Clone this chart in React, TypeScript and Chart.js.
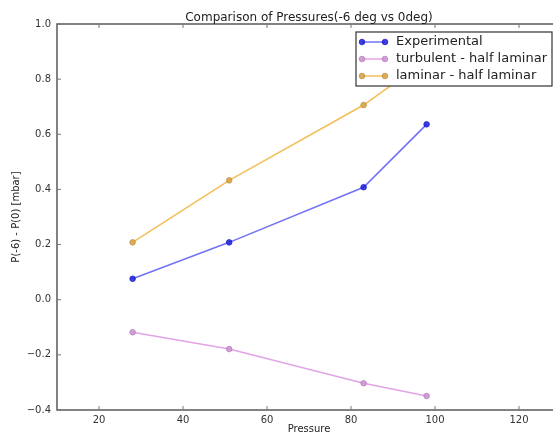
import React, { useEffect, useRef } from "react";
import { Chart, registerables } from "chart.js";

Chart.register(...registerables);

const chartTitle = "Comparison of Pressures(-6 deg vs 0deg)";
const xLabel = "Pressure";
const yLabel = "P(-6) - P(0) [mbar]";

const pressure = [28, 51, 83, 98];
const experimental = [0.076, 0.208, 0.408, 0.636];
const turbulent = [-0.118, -0.179, -0.303, -0.349];
const laminar = [0.208, 0.433, 0.706, 0.87];

const seriesNames = ["Experimental", "turbulent - half laminar", "laminar - half laminar"];
const xTicks = [20, 40, 60, 80, 100, 120];
const yTicks = [-0.4, -0.2, 0.0, 0.2, 0.4, 0.6, 0.8, 1.0];
const xRange = [10, 130];
const yRange = [-0.4, 1.0];

const lineColors = ["rgba(40,40,240,0.65)", "rgba(220,140,225,0.8)", "rgba(240,180,60,0.85)"];
const pointFills = ["rgba(30,30,220,0.85)", "rgba(205,150,210,0.9)", "rgba(215,165,75,0.9)"];
const pointEdges = ["rgba(20,20,200,0.9)", "rgba(180,120,190,0.9)", "rgba(185,140,60,0.9)"];

const FONT = '"DejaVu Sans", sans-serif';
const fmt = (v: number) => {
  const s = v.toFixed(1);
  return s.startsWith("-") ? "\u2212" + s.slice(1) : s;
};

const decor = {
  id: "decor",
  afterDatasetsDraw(chart: any) {
    const { ctx, chartArea: a, scales } = chart;
    ctx.save();
    ctx.strokeStyle = "#5a5a5a";
    ctx.lineWidth = 1.5;
    ctx.strokeRect(a.left, a.top, a.right - a.left, a.bottom - a.top);
    ctx.lineWidth = 1;
    ctx.strokeStyle = "#777";
    ctx.beginPath();
    for (const v of xTicks) {
      const px = scales.x.getPixelForValue(v);
      ctx.moveTo(px, a.bottom);
      ctx.lineTo(px, a.bottom - 4);
      ctx.moveTo(px, a.top);
      ctx.lineTo(px, a.top + 4);
    }
    for (const v of yTicks) {
      const py = scales.y.getPixelForValue(v);
      ctx.moveTo(a.left, py);
      ctx.lineTo(a.left + 4, py);
      ctx.moveTo(a.right, py);
      ctx.lineTo(a.right - 4, py);
    }
    ctx.stroke();

    ctx.fillStyle = "#222";
    ctx.textAlign = "center";
    ctx.textBaseline = "alphabetic";
    ctx.font = "12px " + FONT;
    ctx.fillText(chartTitle, (a.left + a.right) / 2, a.top - 3);
    ctx.font = "10px " + FONT;
    ctx.fillText(xLabel, (a.left + a.right) / 2, a.bottom + 22);
    ctx.save();
    ctx.translate(19, (a.top + a.bottom) / 2);
    ctx.rotate(-Math.PI / 2);
    ctx.fillText(yLabel, 0, 0);
    ctx.restore();

    ctx.font = "13px " + FONT;
    const tw = Math.max(...seriesNames.map((s) => ctx.measureText(s).width));
    const padL = 6, sample = 23, gap = 11, padR = 5;
    const w = padL + sample + gap + tw + padR;
    const rowH = 17;
    const h = rowH * seriesNames.length + 3;
    const right = a.right - 9;
    const left = right - w;
    const top = a.top + 8;
    ctx.fillStyle = "#fff";
    ctx.fillRect(left, top, w, h);
    ctx.strokeStyle = "#333";
    ctx.lineWidth = 1.2;
    ctx.strokeRect(left, top, w, h);
    seriesNames.forEach((name, i) => {
      const cy = top + 9 + i * rowH + 1;
      const x0 = left + padL, x1 = x0 + sample;
      ctx.strokeStyle = lineColors[i];
      ctx.lineWidth = 1.5;
      ctx.beginPath();
      ctx.moveTo(x0, cy);
      ctx.lineTo(x1, cy);
      ctx.stroke();
      for (const x of [x0, x1]) {
        ctx.beginPath();
        ctx.arc(x, cy, 2.8, 0, Math.PI * 2);
        ctx.fillStyle = pointFills[i];
        ctx.fill();
        ctx.strokeStyle = pointEdges[i];
        ctx.lineWidth = 0.8;
        ctx.stroke();
      }
      ctx.fillStyle = "#222";
      ctx.textAlign = "left";
      ctx.textBaseline = "middle";
      ctx.fillText(name, x1 + gap, cy);
    });
    ctx.restore();
  },
};

export default function App() {
  const ref = useRef<HTMLCanvasElement | null>(null);
  useEffect(() => {
    if (!ref.current) return;
    const series = [experimental, turbulent, laminar];
    const chart = new Chart(ref.current, {
      type: "line",
      data: {
        datasets: series.map((vals, i) => ({
          label: seriesNames[i],
          data: pressure.map((p, j) => ({ x: p, y: vals[j] })),
          borderColor: lineColors[i],
          backgroundColor: pointFills[i],
          pointBackgroundColor: pointFills[i],
          pointBorderColor: pointEdges[i],
          pointBorderWidth: 0.8,
          pointRadius: 2.8,
          borderWidth: 1.6,
          tension: 0,
          fill: false,
        })),
      },
      options: {
        responsive: false,
        animation: false,
        events: [],
        layout: { padding: { left: 0, top: 24, right: 57, bottom: 0 } },
        plugins: { legend: { display: false }, title: { display: false }, tooltip: { enabled: false } },
        scales: {
          x: {
            type: "linear",
            min: xRange[0],
            max: xRange[1],
            grid: { display: false, drawTicks: false },
            border: { display: false },
            afterBuildTicks: (s: any) => {
              s.ticks = xTicks.map((v) => ({ value: v }));
            },
            afterFit: (s: any) => {
              s.height = 24;
            },
            ticks: {
              padding: 4,
              color: "#333",
              font: { family: FONT, size: 10 },
              maxRotation: 0,
              callback: (v: any) => String(v),
            },
          },
          y: {
            type: "linear",
            min: yRange[0],
            max: yRange[1],
            grid: { display: false, drawTicks: false },
            border: { display: false },
            afterBuildTicks: (s: any) => {
              s.ticks = yTicks.map((v) => ({ value: v }));
            },
            afterFit: (s: any) => {
              s.width = 57;
            },
            ticks: {
              padding: 6,
              color: "#333",
              font: { family: FONT, size: 10 },
              callback: (v: any) => fmt(Number(v)),
            },
          },
        },
      },
      plugins: [decor],
    });
    return () => chart.destroy();
  }, []);
  return (
    <div style={{ position: "absolute", left: 0, top: 0, width: 553, height: 434, overflow: "hidden", background: "#fff" }}>
      <canvas ref={ref} width={618} height={434} style={{ display: "block" }} />
    </div>
  );
}
